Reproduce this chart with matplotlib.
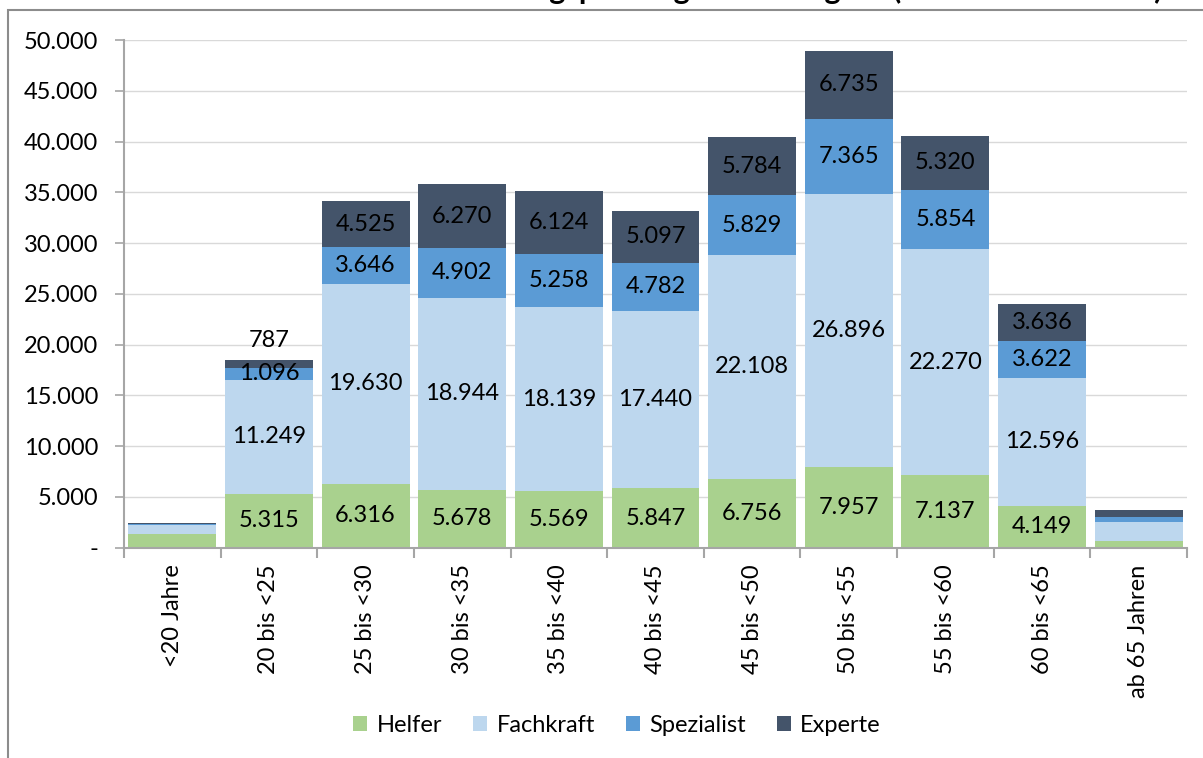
import matplotlib
matplotlib.use("Agg")
import matplotlib.pyplot as plt
import numpy as np
from matplotlib.patches import Rectangle
from matplotlib.ticker import FixedLocator

plt.rcParams['font.family'] = ['Lato', 'DejaVu Sans']

categories = ['<20 Jahre', '20 bis <25', '25 bis <30', '30 bis <35', '35 bis <40',
              '40 bis <45', '45 bis <50', '50 bis <55', '55 bis <60', '60 bis <65',
              'ab 65 Jahren']
helfer = [1380, 5315, 6316, 5678, 5569, 5847, 6756, 7957, 7137, 4149, 690]
fachkraft = [850, 11249, 19630, 18944, 18139, 17440, 22108, 26896, 22270, 12596, 1800]
spezialist = [130, 1096, 3646, 4902, 5258, 4782, 5829, 7365, 5854, 3622, 490]
experte = [100, 787, 4525, 6270, 6124, 5097, 5784, 6735, 5320, 3636, 760]

series_names = ['Helfer', 'Fachkraft', 'Spezialist', 'Experte']
colors = ['#A9D18E', '#BDD7EE', '#5B9BD5', '#44546A']
title = 'Anzahl der sozialversicherungspflichtig Beschäftigten (nach Altersklassen)'


def fmt(v):
    return f'{v:,}'.replace(',', '.')


fig = plt.figure(figsize=(12.03, 7.58), dpi=100)
ax = fig.add_axes([124 / 1203, 1 - 547.7 / 758, (1187 - 124) / 1203, (547.7 - 40) / 758])

# outer chart frame (title sits above it, cut off at the top as in the source)
fig.patches.append(Rectangle((8 / 1203, -0.05), 1.2, 1 - 10 / 758 + 0.05,
                             transform=fig.transFigure, fill=False,
                             edgecolor='#8C8C8C', linewidth=1.5))
fig.text(1163 / 1203, 1 + 1 / 758, title, ha='right', va='baseline',
         fontsize=22, fontweight='bold')

x = np.arange(len(categories))
bottom = np.zeros(len(categories))
containers = []
for name, vals, col in zip(series_names, [helfer, fachkraft, spezialist, experte], colors):
    bars = ax.bar(x, vals, width=0.91, bottom=bottom, color=col, label=name, zorder=2)
    containers.append(bars)
    bottom = bottom + np.array(vals)

# data labels (not for the two small outer bars, 787 sits above its bar)
for ci, (bars, vals) in enumerate(zip(containers, [helfer, fachkraft, spezialist, experte])):
    labels = []
    for i, v in enumerate(vals):
        if i in (0, len(vals) - 1) or (ci == 3 and i == 1):
            labels.append('')
        else:
            labels.append(fmt(v))
    ax.bar_label(bars, labels=labels, label_type='center', fontsize=17, color='black')

ax.annotate(fmt(experte[1]), (x[1], bottom[1]), xytext=(0, 14), textcoords='offset points',
            ha='center', va='center', fontsize=17)

ax.set_xlim(-0.5, len(categories) - 0.5)
ax.set_ylim(0, 50000)
yt = np.arange(0, 50001, 5000)
ax.set_yticks(yt)
ax.set_yticklabels(['-' if v == 0 else fmt(int(v)) for v in yt])
ax.yaxis.grid(True, color='#D9D9D9', linewidth=1, zorder=0)
ax.set_axisbelow(True)

# category boundary ticks, labels in the middle
ax.xaxis.set_major_locator(FixedLocator(np.arange(-0.5, len(categories), 1)))
ax.set_xticklabels([])
ax.xaxis.set_minor_locator(FixedLocator(x))
ax.set_xticklabels(categories, minor=True, rotation=90, fontsize=17)
ax.tick_params(axis='x', which='major', length=7, color='#A6A6A6', width=1.5)
ax.tick_params(axis='x', which='minor', length=0, pad=12)
ax.tick_params(axis='y', length=6.5, color='#A6A6A6', width=1.2, pad=12, labelsize=17)

for s in ['top', 'right']:
    ax.spines[s].set_visible(False)
ax.spines['left'].set_color('#A6A6A6')
ax.spines['left'].set_linewidth(1.5)
ax.spines['bottom'].set_color('#A6A6A6')
ax.spines['bottom'].set_linewidth(1.5)

fig.legend(loc='center', bbox_to_anchor=(617 / 1203, 1 - 725 / 758), ncol=4,
           frameon=False, fontsize=17, handlelength=0.6, handleheight=0.6,
           handletextpad=0.4, columnspacing=1.3)

fig.savefig('out.png', dpi=100)
